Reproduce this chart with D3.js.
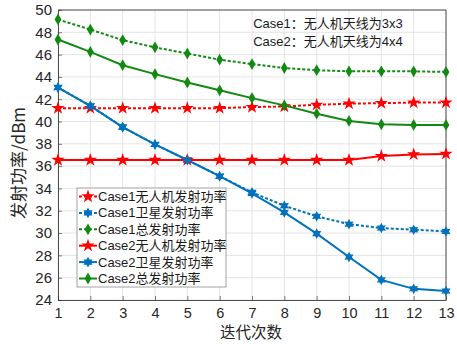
<!DOCTYPE html>
<html>
<head>
<meta charset="utf-8">
<script src="https://cdn.jsdelivr.net/npm/d3@7"></script>
<style>
  html, body { margin: 0; padding: 0; background: #fff; }
  svg { display: block; }
  .tick text { font-family: "Liberation Sans", Arial, sans-serif; }
</style>
</head>
<body>
<svg id="chart" width="457" height="344"></svg>
<script>
// Iteration index and transmit power (dBm) per series
const iterations = [1, 2, 3, 4, 5, 6, 7, 8, 9, 10, 11, 12, 13];
const case1Uav   = [41.2, 41.2, 41.2, 41.2, 41.2, 41.2, 41.3, 41.35, 41.5, 41.6, 41.65, 41.7, 41.7];
const case1Sat   = [43.05, 41.4, 39.5, 37.95, 36.55, 35.1, 33.65, 32.45, 31.5, 30.8, 30.45, 30.3, 30.15];
const case1Total = [49.15, 48.25, 47.3, 46.65, 46.1, 45.55, 45.15, 44.8, 44.6, 44.5, 44.5, 44.5, 44.45];
const case2Uav   = [36.55, 36.55, 36.55, 36.55, 36.55, 36.55, 36.55, 36.55, 36.55, 36.55, 36.9, 37.05, 37.1];
const case2Sat   = [43.05, 41.4, 39.5, 37.95, 36.55, 35.1, 33.55, 31.85, 29.95, 27.85, 25.8, 25.0, 24.8];
const case2Total = [47.35, 46.25, 45.05, 44.25, 43.5, 42.8, 42.1, 41.45, 40.7, 40.05, 39.75, 39.7, 39.7];

const seriesNames = ["Case1无人机发射功率", "Case1卫星发射功率", "Case1总发射功率",
                     "Case2无人机发射功率", "Case2卫星发射功率", "Case2总发射功率"];
const xTicks = iterations;
const yTicks = [24, 26, 28, 30, 32, 34, 36, 38, 40, 42, 44, 46, 48, 50];
const notes = ["Case1：无人机天线为3x3", "Case2：无人机天线为4x4"];

const RED = "#ff0000", BLUE = "#0072bd", GREEN = "#128a12";

// six-pointed star marker
const hexagram = {
  draw(ctx, size) {
    const r = Math.sqrt(size / 1.6);
    const ri = r * 0.55;
    for (let i = 0; i < 12; i++) {
      const a = -Math.PI / 2 + i * Math.PI / 6;
      const rr = i % 2 === 0 ? r : ri;
      const x = rr * Math.cos(a), y = rr * Math.sin(a);
      if (i === 0) ctx.moveTo(x, y); else ctx.lineTo(x, y);
    }
    ctx.closePath();
  }
};

const series = [
  { name: seriesNames[0], values: case1Uav,   color: RED,   dash: "3,2", marker: d3.symbolStar,    size: 55 },
  { name: seriesNames[1], values: case1Sat,   color: BLUE,  dash: "3,2", marker: hexagram,         size: 45 },
  { name: seriesNames[2], values: case1Total, color: GREEN, dash: "3,2", marker: d3.symbolDiamond, size: 40 },
  { name: seriesNames[3], values: case2Uav,   color: RED,   dash: null,  marker: d3.symbolStar,    size: 55 },
  { name: seriesNames[4], values: case2Sat,   color: BLUE,  dash: null,  marker: hexagram,         size: 45 },
  { name: seriesNames[5], values: case2Total, color: GREEN, dash: null,  marker: d3.symbolDiamond, size: 40 }
];

const svg = d3.select("#chart");
const m = { left: 58, right: 446, top: 10, bottom: 300 };

const x = d3.scaleLinear().domain([1, 13]).range([m.left, m.right]);
const y = d3.scaleLinear().domain([24, 50]).range([m.bottom, m.top]);

// grid
const grid = svg.append("g");
grid.selectAll("line.gx").data(xTicks).join("line")
  .attr("x1", d => x(d)).attr("x2", d => x(d))
  .attr("y1", m.top).attr("y2", m.bottom)
  .attr("stroke", "#e4e4e4").attr("stroke-width", 1);
grid.selectAll("line.gy").data(yTicks).join("line")
  .attr("y1", d => y(d)).attr("y2", d => y(d))
  .attr("x1", m.left).attr("x2", m.right)
  .attr("stroke", "#e4e4e4").attr("stroke-width", 1);

// axes
const axisColor = "#262626";
const xAxis = svg.append("g").attr("transform", `translate(0,${m.bottom})`)
  .call(d3.axisBottom(x).tickValues(xTicks).tickFormat(d3.format("d")).tickSizeInner(-4).tickSizeOuter(0).tickPadding(8));
const yAxis = svg.append("g").attr("transform", `translate(${m.left},0)`)
  .call(d3.axisLeft(y).tickValues(yTicks).tickFormat(d3.format("d")).tickSizeInner(-4).tickSizeOuter(0).tickPadding(6));
[xAxis, yAxis].forEach(g => {
  g.select(".domain").attr("stroke", axisColor).attr("stroke-width", 0.8);
  g.selectAll(".tick line").attr("stroke", axisColor).attr("stroke-width", 0.6);
  g.selectAll(".tick text").attr("fill", axisColor).attr("font-size", 15);
});
xAxis.selectAll(".tick text").attr("font-size", 14.5);
// top and right border
svg.append("line").attr("x1", m.left).attr("x2", m.right).attr("y1", m.top).attr("y2", m.top)
  .attr("stroke", axisColor).attr("stroke-width", 0.8);
svg.append("line").attr("x1", m.right).attr("x2", m.right).attr("y1", m.top).attr("y2", m.bottom)
  .attr("stroke", axisColor).attr("stroke-width", 0.8);

// lines and markers
const line = d3.line().x((d, i) => x(iterations[i])).y(d => y(d));
const plot = svg.append("g");
series.forEach(s => {
  plot.append("path").datum(s.values)
    .attr("d", line).attr("fill", "none")
    .attr("stroke", s.color).attr("stroke-width", 2)
    .attr("stroke-dasharray", s.dash);
  plot.selectAll(null).data(s.values).join("path")
    .attr("transform", (d, i) => `translate(${x(iterations[i])},${y(d)})`)
    .attr("d", d3.symbol(s.marker, s.size))
    .attr("fill", s.color);
});

// axis titles
const cjk = "'Noto Sans CJK SC', sans-serif";
svg.append("text")
  .attr("x", 251).attr("y", 338)
  .attr("text-anchor", "middle").attr("font-family", cjk)
  .attr("font-size", 15.5).attr("fill", axisColor)
  .text("迭代次数");
svg.append("text")
  .attr("transform", `translate(25,${(m.top + m.bottom) / 2 + 8}) rotate(-90)`)
  .attr("text-anchor", "middle").attr("font-family", cjk)
  .attr("font-size", 17).attr("fill", axisColor)
  .text("发射功率/dBm");

// notes
svg.selectAll("text.note").data(notes).join("text")
  .attr("x", 328).attr("y", (d, i) => 28 + i * 18)
  .attr("text-anchor", "middle")
  .attr("font-family", "'Liberation Sans', 'Noto Sans CJK SC', sans-serif")
  .attr("font-size", 13).attr("fill", "#1a1a1a")
  .text(d => d);

// legend
const lg = svg.append("g");
lg.append("rect").attr("x", 77).attr("y", 188).attr("width", 149).attr("height", 99)
  .attr("fill", "#fff").attr("stroke", "#8c8c8c").attr("stroke-width", 0.8);
series.forEach((s, i) => {
  const cy = 196.5 + i * 16.4;
  lg.append("line").attr("x1", 79).attr("x2", 97).attr("y1", cy).attr("y2", cy)
    .attr("stroke", s.color).attr("stroke-width", 2).attr("stroke-dasharray", s.dash);
  lg.append("path").attr("transform", `translate(88,${cy})`)
    .attr("d", d3.symbol(s.marker, s.size)).attr("fill", s.color);
  lg.append("text").attr("x", 98).attr("y", cy + 4.5)
    .attr("font-family", "'Liberation Sans', 'Noto Sans CJK SC', sans-serif")
    .attr("font-size", 13).attr("fill", "#1a1a1a")
    .text(s.name);
});
</script>
</body>
</html>
